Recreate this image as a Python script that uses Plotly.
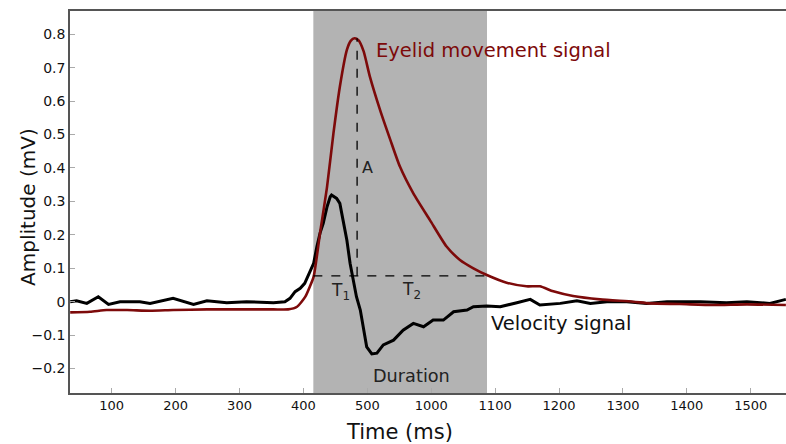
import plotly.graph_objects as go
import numpy as np

# ---- data ----
eyelid_t = [35, 66, 92, 124, 160, 196, 249, 301, 353, 376, 390, 403, 410, 416, 426, 437, 447, 457, 468,
            474, 480, 486, 494, 504, 520, 536, 551, 572, 598, 624, 645, 666, 687, 718, 749, 770, 791, 822,
            864, 916, 942, 989, 1041, 1094, 1155]
eyelid_v = [-0.032, -0.030, -0.025, -0.025, -0.027, -0.025, -0.023, -0.023, -0.023, -0.023, -0.015, 0.015,
            0.045, 0.075, 0.205, 0.344, 0.504, 0.643, 0.753, 0.780, 0.788, 0.782, 0.750, 0.673, 0.573, 0.484,
            0.404, 0.324, 0.244, 0.165, 0.125, 0.100, 0.080, 0.057, 0.046, 0.046, 0.031, 0.017, 0.007,
            0.000, -0.005, -0.007, -0.010, -0.008, -0.010]

velocity_t = [35, 45, 61, 79, 95, 113, 144, 160, 196, 228, 249, 280, 311, 353, 371, 379, 387, 395, 402,
              408, 416, 421, 426, 431, 437, 442, 444, 452, 457, 462, 468, 473, 478, 483, 489, 499, 507,
              515, 525, 541, 556, 572, 588, 603, 619, 635, 656, 666, 687, 708, 734, 755, 770, 802, 828,
              849, 875, 906, 937, 969, 1021, 1062, 1094, 1130, 1155]
velocity_v = [0.000, 0.003, -0.005, 0.015, -0.008, 0.000, 0.000, -0.005, 0.010, -0.008, 0.003, -0.003,
              0.000, -0.003, 0.000, 0.010, 0.030, 0.040, 0.055, 0.080, 0.115, 0.164, 0.205, 0.234, 0.284,
              0.314, 0.319, 0.309, 0.294, 0.244, 0.184, 0.115, 0.065, 0.015, -0.025, -0.135, -0.156,
              -0.154, -0.129, -0.115, -0.085, -0.065, -0.075, -0.055, -0.055, -0.030, -0.025, -0.015,
              -0.013, -0.015, -0.003, 0.007, -0.010, -0.005, 0.003, -0.005, 0.000, 0.000, -0.005, 0.000,
              0.000, -0.003, 0.000, -0.005, 0.007]

tick_vals = [100, 200, 300, 400, 500, 600, 700, 800, 900, 1000, 1100]
tick_text = ["100", "200", "300", "400", "500", "1000", "1100", "1200", "1300", "1400", "1500"]
y_ticks = [-0.2, -0.1, 0, 0.1, 0.2, 0.3, 0.4, 0.5, 0.6, 0.7, 0.8]
y_text = ["\u22120.2", "\u22120.1", "0", "0.1", "0.2", "0.3", "0.4", "0.5", "0.6", "0.7", "0.8"]

duration_start = 415.5
duration_end = 687.3
threshold = 0.0775

peak_i = int(np.argmax(eyelid_v))
peak_t = eyelid_t[peak_i] + 4
peak_v = eyelid_v[peak_i]

FONT = "DejaVu Sans"
RED = "#7d0a0a"

fig = go.Figure()
fig.add_trace(go.Scatter(x=velocity_t, y=velocity_v, mode="lines",
                         line=dict(color="black", width=3), showlegend=False))
fig.add_trace(go.Scatter(x=eyelid_t, y=eyelid_v, mode="lines",
                         line=dict(color=RED, width=2.6, shape="spline", smoothing=0.6), showlegend=False))

# shaded duration
fig.add_shape(type="rect", xref="x", yref="paper", x0=duration_start, x1=duration_end, y0=0, y1=1,
              fillcolor="#b3b3b3", line=dict(width=0), layer="below")
# dashed lines
fig.add_shape(type="line", xref="x", yref="y", x0=duration_start, x1=duration_end, y0=threshold, y1=threshold,
              line=dict(color="black", width=1.3, dash="dash"))
fig.add_shape(type="line", xref="x", yref="y", x0=peak_t, x1=peak_t, y0=threshold, y1=peak_v,
              line=dict(color="black", width=1.3, dash="dash"))

ann = [
    dict(text="Eyelid movement signal", x=510, y=0.752, xanchor="left", yanchor="middle",
         font=dict(size=19.5, color=RED)),
    dict(text="A", x=489, y=0.400, xanchor="left", yanchor="middle", font=dict(size=16, color="#222")),
    dict(text="T<sub>1</sub>", x=440, y=0.030, xanchor="left", yanchor="middle", font=dict(size=17, color="#222")),
    dict(text="T<sub>2</sub>", x=551, y=0.033, xanchor="left", yanchor="middle", font=dict(size=17, color="#222")),
    dict(text="Velocity signal", x=690, y=-0.064, xanchor="left", yanchor="middle",
         font=dict(size=19.5, color="#111")),
    dict(text="Duration", x=506, y=-0.222, xanchor="left", yanchor="middle", font=dict(size=17.7, color="#222")),
]
for a in ann:
    fig.add_annotation(xref="x", yref="y", showarrow=False, **a)

fig.add_annotation(text="Time (ms)", xref="paper", yref="paper", x=0.4595, y=-0.102,
                   xanchor="center", yanchor="middle", showarrow=False,
                   font=dict(size=21, color="#111"))
fig.add_annotation(text="Amplitude (mV)", xref="paper", yref="paper", x=-0.0587, y=0.487,
                   xanchor="center", yanchor="middle", showarrow=False, textangle=-90,
                   font=dict(size=20, color="#111"))

fig.update_xaxes(range=[34.7, 1155.2], tickvals=tick_vals, ticktext=tick_text, ticks="inside",
                 ticklen=5, tickcolor="#aaa", showgrid=False, zeroline=False, showline=True,
                 linecolor="#555", linewidth=1.5, mirror=True,
                 tickfont=dict(size=13, color="#111", family=FONT))
fig.update_yaxes(range=[-0.273, 0.8693], tickvals=y_ticks, ticktext=y_text, ticks="inside",
                 ticklen=5, tickcolor="#aaa", showgrid=False, zeroline=False, showline=True,
                 linecolor="#555", linewidth=1.5,
                 tickfont=dict(size=14, color="#111", family=FONT))

fig.update_layout(width=786, height=444, margin=dict(l=70, r=0, t=11, b=51),
                  paper_bgcolor="white", plot_bgcolor="white",
                  font=dict(family=FONT, color="#111"))

fig.write_html("out.html")
